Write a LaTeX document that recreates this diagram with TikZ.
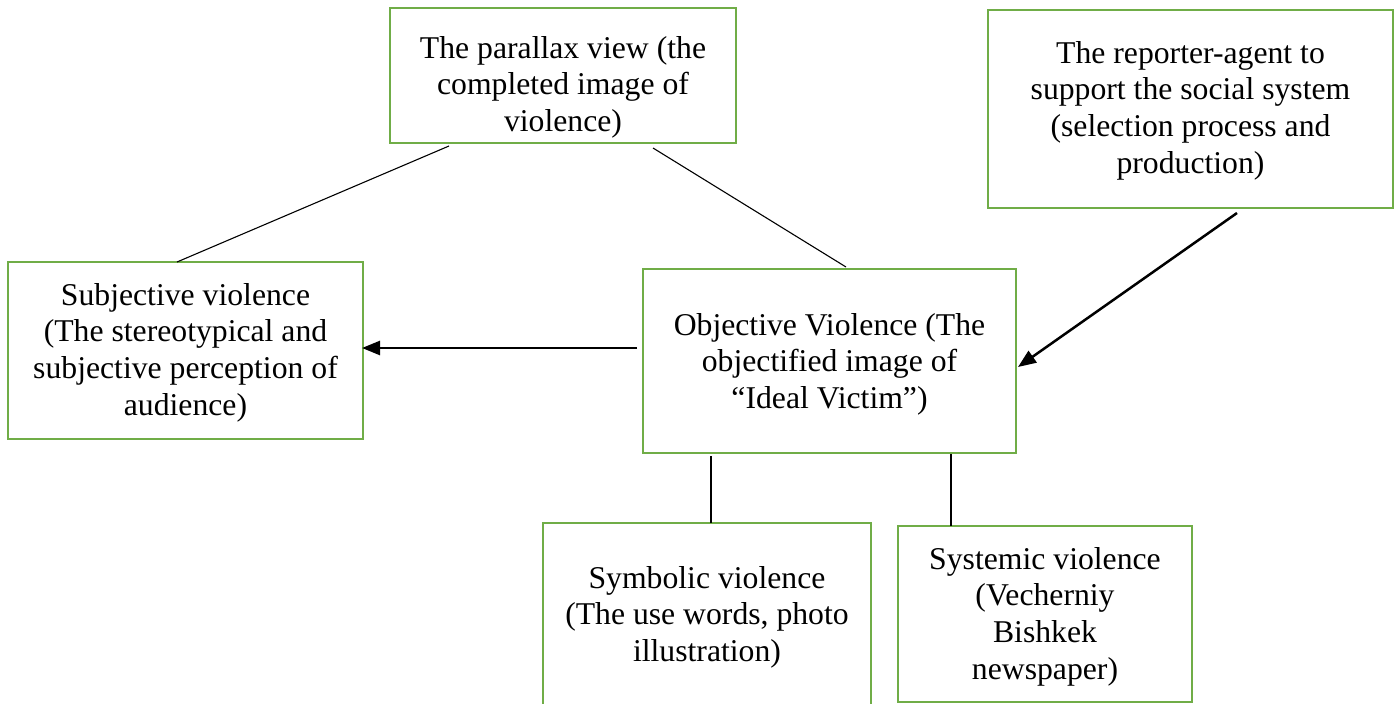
\documentclass[tikz,border=0pt]{standalone}
\usepackage{fontspec}
\setmainfont{Liberation Serif}
\usetikzlibrary{arrows.meta}
\definecolor{boxgreen}{HTML}{70AD47}
\begin{document}
\begin{tikzpicture}[x=1pt,y=-1pt,
  box/.style={draw=boxgreen, line width=2.2pt, inner sep=0pt},
  txt/.style={anchor=north, align=center, inner sep=0pt, font=\fontsize{31.7}{36.7}\selectfont},
  thinline/.style={line width=1.1pt},
  arr/.style={line width=2.5pt, -{Triangle[length=18pt,width=14pt]}}]
\useasboundingbox (0,0) rectangle (1398,704);
\fill[white] (0,0) rectangle (1398,704);
% boxes
\node[box, minimum width=346pt, minimum height=135pt] (par) at (563,75.5) {};
\node[box, minimum width=405pt, minimum height=198pt] (rep) at (1190.5,109) {};
\node[box, minimum width=355pt, minimum height=177pt] (subj) at (185.5,350.5) {};
\node[box, minimum width=373pt, minimum height=184pt] (obj) at (829.5,361) {};
\node[box, minimum width=328pt, minimum height=189pt] (sym) at (707,617.5) {};
\node[box, minimum width=294pt, minimum height=176pt] (sys) at (1045,614) {};
% texts
\node[txt] (partxt) at (563,33) {\rule{0pt}{25pt}The parallax view (the\\completed image of\\violence)};
\node[txt] (reptxt) at (1190.5,38) {\rule{0pt}{25pt}The reporter-agent to\\support the social system\\(selection process and\\production)};
\node[txt] (subjtxt) at (185.5,280) {\rule{0pt}{25pt}Subjective violence\\(The stereotypical and\\subjective perception of\\audience)};
\node[txt] (objtxt) at (829.5,310) {\rule{0pt}{25pt}Objective Violence (The\\objectified image of\\“Ideal Victim”)};
\node[txt] (symtxt) at (707,563) {\rule{0pt}{25pt}Symbolic violence\\(The use words, photo\\illustration)};
\node[txt] (systxt) at (1045,544) {\rule{0pt}{25pt}Systemic violence\\(Vecherniy\\Bishkek\\newspaper)};
% connector end points
\coordinate (parL) at (449,146);
\coordinate (subjT) at (177,262);
\coordinate (parR) at (653,148);
\coordinate (objT) at (846,267);
\coordinate (objL) at (637,348);
\coordinate (subjR) at (362,348);
\coordinate (repB) at (1237,213);
\coordinate (objR) at (1018,367);
\coordinate (objB1) at (711,456);
\coordinate (symT) at (711,523);
\coordinate (objB2) at (951,454);
\coordinate (sysT) at (951,526);
% connectors
\draw[thinline] (parL) -- (subjT);
\draw[thinline] (parR) -- (objT);
\draw[arr] (objL) -- (subjR);
\draw[arr] (repB) -- (objR);
\draw[thinline] (objB1) -- (symT);
\draw[thinline] (objB2) -- (sysT);
\end{tikzpicture}
\end{document}
